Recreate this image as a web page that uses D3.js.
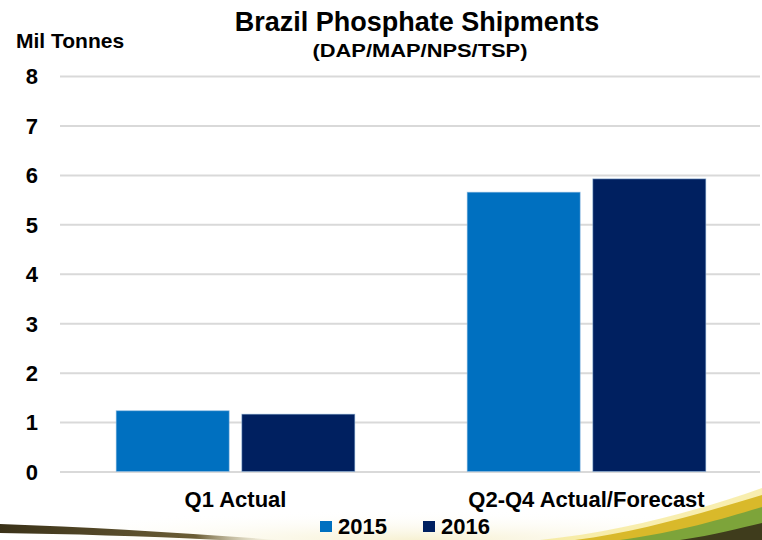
<!DOCTYPE html>
<html>
<head>
	<title>Brazil Phosphate Shipments</title>
	<script src="https://d3js.org/d3.v7.min.js"></script>
	<style type="text/css">
		body { margin:0; background:#fff; }
		text { font-family:"Liberation Sans", Arial, sans-serif; font-weight:bold; fill:#000; }
	</style>
</head>
<body>
<script>
	// data
	var categories = ["Q1 Actual", "Q2-Q4 Actual/Forecast"];
	var years = ["2015", "2016"];
	var values2015 = [1.23, 5.65];
	var values2016 = [1.16, 5.92];
	var yTicks = [0, 1, 2, 3, 4, 5, 6, 7, 8];
	var colors = ["#0070C0", "#002060"];

	var w = 762, h = 540;
	var svg = d3.select("body").append("svg")
		.attr("width", w)
		.attr("height", h);

	var defs = svg.append("defs");
	var gLeft = defs.append("linearGradient").attr("id", "swLeft")
		.attr("x1", 0).attr("x2", 1).attr("y1", 0).attr("y2", 0);
	gLeft.append("stop").attr("offset", "0%").attr("stop-color", "#3a3118");
	gLeft.append("stop").attr("offset", "70%").attr("stop-color", "#6b5d35");
	gLeft.append("stop").attr("offset", "100%").attr("stop-color", "#d8cfa8").attr("stop-opacity", 0);
	var glow = defs.append("radialGradient").attr("id", "glow")
		.attr("cx", "55%").attr("cy", "100%").attr("r", "60%");
	glow.append("stop").attr("offset", "0%").attr("stop-color", "#f7f1d2");
	glow.append("stop").attr("offset", "100%").attr("stop-color", "#ffffff").attr("stop-opacity", 0);

	// decorative swoosh at the bottom
	svg.append("rect").attr("x", 0).attr("y", 490).attr("width", w).attr("height", 50)
		.attr("fill", "url(#glow)");
	svg.append("path")
		.attr("d", "M0,524 C90,527 180,533 280,540 L220,540 C140,536 70,534 0,533 Z")
		.attr("fill", "url(#swLeft)");
	svg.append("path")
		.attr("d", "M540,540 C620,532 700,510 762,488 L762,540 Z")
		.attr("fill", "#f3e27a").attr("opacity", 0.6);
	svg.append("path")
		.attr("d", "M575,540 C640,532 705,512 762,495 L762,540 Z")
		.attr("fill", "#d9b92a");
	svg.append("path")
		.attr("d", "M620,540 C680,532 725,518 762,507 L762,540 Z")
		.attr("fill", "#7da43a");
	svg.append("path")
		.attr("d", "M680,540 C715,535 740,528 762,523 L762,540 Z")
		.attr("fill", "#3f3c1c");

	// scales
	var xScale = d3.scaleBand()
		.domain(categories)
		.range([60, 762])
		.paddingInner(0.32)
		.paddingOuter(0.16);
	var xSub = d3.scaleBand()
		.domain(years)
		.range([0, xScale.bandwidth()])
		.paddingInner(0.1);
	var yScale = d3.scaleLinear()
		.domain([0, 8])
		.range([471.5, 76]);

	// gridlines
	svg.append("g")
		.attr("transform", "translate(60,0)")
		.call(d3.axisLeft(yScale).tickValues(yTicks).tickSize(-700).tickFormat(""))
		.call(function(g){ g.select(".domain").remove(); })
		.selectAll("line")
		.attr("stroke", "#d9d9d9")
		.attr("stroke-width", 2);

	// y labels
	var yAxis = svg.append("g")
		.attr("transform", "translate(38,0)")
		.call(d3.axisLeft(yScale).tickValues(yTicks).tickSize(0).tickPadding(0));
	yAxis.select(".domain").remove();
	yAxis.selectAll("text")
		.attr("font-family", null)
		.style("font-size", "22px")
		.attr("dy", "0.36em");

	// bars
	var rows = categories.map(function(c, i) {
		return { cat: c, vals: [values2015[i], values2016[i]] };
	});
	var groups = svg.selectAll(".grp").data(rows).enter().append("g")
		.attr("class", "grp")
		.attr("transform", function(d){ return "translate(" + xScale(d.cat) + ",0)"; });
	groups.selectAll("rect")
		.data(function(d){ return d.vals.map(function(v, j){ return { year: years[j], v: v, j: j }; }); })
		.enter().append("rect")
		.attr("x", function(d){ return xSub(d.year); })
		.attr("y", function(d){ return yScale(d.v); })
		.attr("width", xSub.bandwidth())
		.attr("height", function(d){ return yScale(0) - yScale(d.v); })
		.attr("fill", function(d){ return colors[d.j]; })
		.attr("stroke", "#9dc3e6")
		.attr("stroke-opacity", 0.5)
		.attr("stroke-width", 1);

	// category labels
	var xAxis = svg.append("g")
		.attr("transform", "translate(0,507)")
		.call(d3.axisBottom(xScale).tickSize(0).tickPadding(0));
	xAxis.select(".domain").remove();
	xAxis.selectAll("text")
		.attr("font-family", null)
		.attr("dy", 0)
		.style("font-size", "22px");

	// titles
	svg.append("text")
		.attr("x", 417).attr("y", 31)
		.attr("text-anchor", "middle")
		.style("font-size", "27px")
		.text("Brazil Phosphate Shipments");
	svg.append("text")
		.attr("x", 420).attr("y", 57)
		.attr("text-anchor", "middle")
		.style("font-size", "19px")
		.attr("textLength", 215)
		.attr("lengthAdjust", "spacingAndGlyphs")
		.text("(DAP/MAP/NPS/TSP)");
	svg.append("text")
		.attr("x", 16).attr("y", 48)
		.style("font-size", "21px")
		.text("Mil Tonnes");

	// legend
	var legend = svg.selectAll(".leg").data(years).enter().append("g")
		.attr("class", "leg")
		.attr("transform", function(d, i){ return "translate(" + (320 + i * 103) + ",521)"; });
	legend.append("rect")
		.attr("width", 12).attr("height", 11)
		.attr("fill", function(d, i){ return colors[i]; });
	legend.append("text")
		.attr("x", 18).attr("y", 13)
		.style("font-size", "22px")
		.text(function(d){ return d; });
</script>
</body>
</html>
